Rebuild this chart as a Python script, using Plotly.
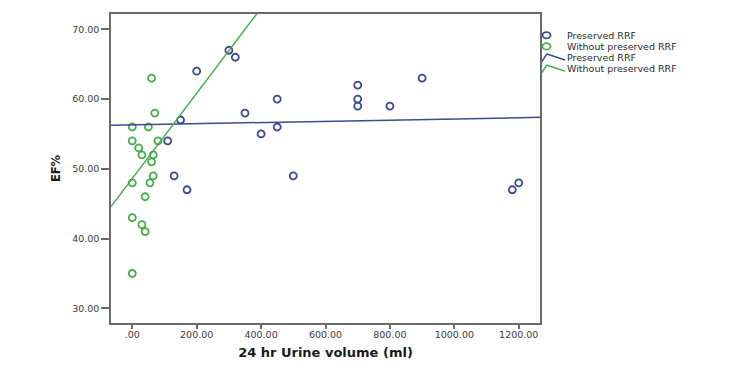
import plotly.graph_objects as go

# ---- data ----
preserved_x = [300, 320, 200, 450, 350, 150, 450, 400, 110, 130, 500, 170,
               900, 700, 700, 700, 800, 1200, 1180]
preserved_y = [67, 66, 64, 60, 58, 57, 56, 55, 54, 49, 49, 47,
               63, 62, 60, 59, 59, 48, 47]

without_x = [60, 70, 0, 50, 0, 80, 20, 30, 65, 60, 65, 0, 55, 40, 0, 30, 40, 0]
without_y = [63, 58, 56, 56, 54, 54, 53, 52, 52, 51, 49, 48, 48, 46, 43, 42, 41, 35]

# fit lines (intercept, slope) as drawn in the reference
preserved_fit = [56.30, 0.000856]
without_fit = [48.61, 0.0611]

x_range = [-66, 1266]
y_range = [27.9, 72.2]

x_tick_vals = [0, 200, 400, 600, 800, 1000, 1200]
x_tick_text = [".00", "200.00", "400.00", "600.00", "800.00", "1000.00", "1200.00"]
y_tick_vals = [30, 40, 50, 60, 70]
y_tick_text = ["30.00", "40.00", "50.00", "60.00", "70.00"]

series_names = ["Preserved RRF", "Without preserved RRF"]

BLUE = "#3c4a8e"
GREEN = "#45ad4e"
AXIS = "#6a6a6a"
FONT = "DejaVu Sans, Liberation Sans, Arial, sans-serif"

W, H = 750, 375
L, R, T, B = 111, 210, 12, 52

fig = go.Figure()

def fit_line(fit):
    xs = [x_range[0], x_range[1]]
    ys = [fit[0] + fit[1] * x for x in xs]
    return xs, ys

for xs, ys, col, name in [(preserved_x, preserved_y, BLUE, series_names[0]),
                          (without_x, without_y, GREEN, series_names[1])]:
    fig.add_trace(go.Scatter(
        x=xs, y=ys, mode="markers", name=name, showlegend=False,
        marker=dict(symbol="circle-open", size=7, color=col, line=dict(width=1.8)),
    ))

for fit, col, name in [(preserved_fit, BLUE, series_names[0]),
                       (without_fit, GREEN, series_names[1])]:
    lx, ly = fit_line(fit)
    fig.add_trace(go.Scatter(
        x=lx, y=ly, mode="lines", name=name, showlegend=False,
        line=dict(color=col, width=1.5),
    ))

# ---- manual legend (SPSS style, compact) ----
def px(xp):
    return (xp - L) / (W - L - R)

def py(yp):
    return (H - B - yp) / (H - T - B)

shapes = []
annotations = []
rows = [33.4, 44.6, 55.8, 67.0]
for yp, col in zip(rows[:2], [BLUE, GREEN]):
    shapes.append(dict(type="circle", xref="paper", yref="paper",
                       xsizemode="pixel", ysizemode="pixel",
                       xanchor=px(546.5), yanchor=py(yp),
                       x0=-4, x1=4, y0=-3.2, y1=3.2,
                       line=dict(color=col, width=1.8)))
for yp, col in zip(rows[2:], [BLUE, GREEN]):
    shapes.append(dict(type="line", xref="paper", yref="paper",
                       x0=px(542), y0=py(yp + 4), x1=px(547), y1=py(yp - 4),
                       line=dict(color=col, width=1.5)))
    shapes.append(dict(type="line", xref="paper", yref="paper",
                       x0=px(547), y0=py(yp - 3.5), x1=px(565), y1=py(yp + 2.5),
                       line=dict(color=col, width=1.5)))

labels = series_names + series_names
for yp, txt in zip(rows, labels):
    annotations.append(dict(text=txt, xref="paper", yref="paper",
                            x=px(566), y=py(yp), xanchor="left", yanchor="middle",
                            showarrow=False, borderpad=0,
                            font=dict(family=FONT, size=9.5, color="#2a2a2a")))

fig.update_layout(
    width=W, height=H,
    margin=dict(l=L, r=R, t=T, b=B, pad=0),
    paper_bgcolor="white", plot_bgcolor="white",
    showlegend=False,
    shapes=shapes, annotations=annotations,
    font=dict(family=FONT, color="#333333"),
)

fig.update_xaxes(
    range=x_range, tickvals=x_tick_vals, ticktext=x_tick_text,
    showgrid=False, zeroline=False,
    showline=True, mirror=True, linecolor=AXIS, linewidth=1.5,
    ticks="outside", ticklen=4, tickwidth=1.5, tickcolor=AXIS,
    ticklabelstandoff=-2,
    tickfont=dict(family=FONT, size=9.5, color="#3a3a3a"),
    title=dict(text="<b>24 hr Urine volume (ml)</b>", standoff=9,
               font=dict(family=FONT, size=13, color="#1a1a1a")),
)
fig.update_yaxes(
    range=y_range, tickvals=y_tick_vals, ticktext=y_tick_text,
    showgrid=False, zeroline=False,
    showline=True, mirror=True, linecolor=AXIS, linewidth=1.5,
    ticks="outside", ticklen=8, tickwidth=1.5, tickcolor=AXIS,
    tickfont=dict(family=FONT, size=9.5, color="#3a3a3a"),
    title=dict(text="<b>EF%</b>", standoff=9,
               font=dict(family=FONT, size=11.5, color="#1a1a1a")),
)

fig.write_html("out.html")
